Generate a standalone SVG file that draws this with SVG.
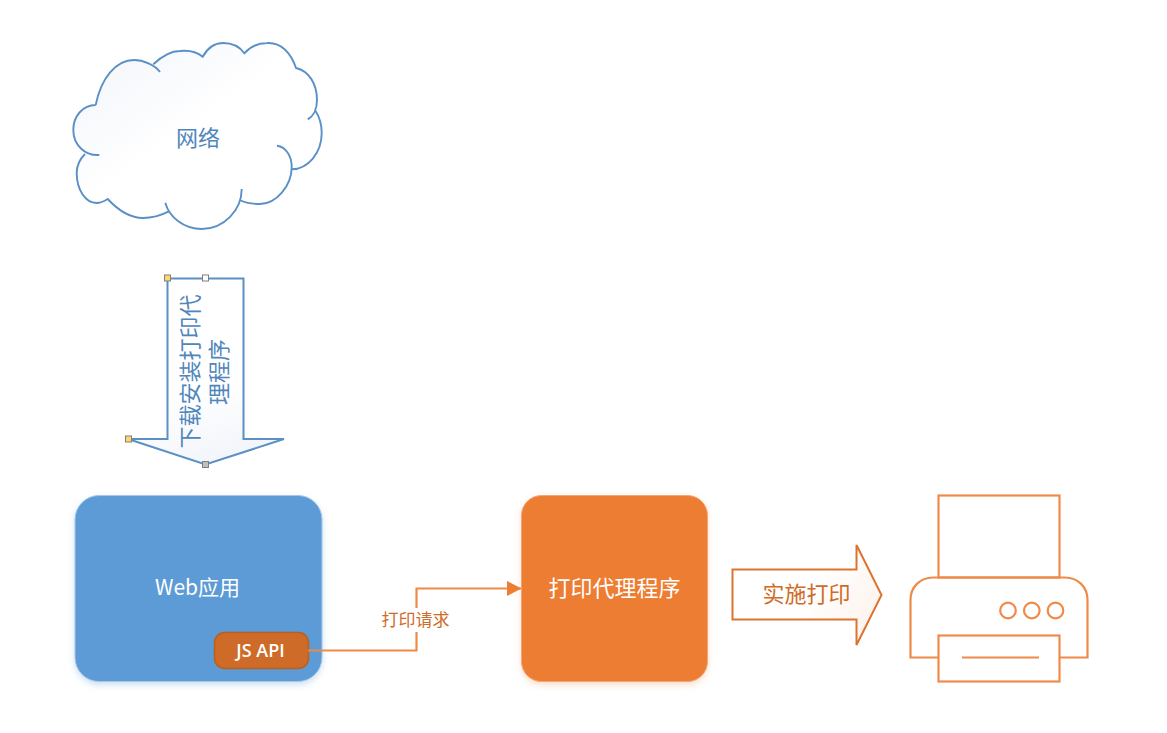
<svg xmlns="http://www.w3.org/2000/svg" width="1167" height="733" viewBox="0 0 1167 733">
<style>
.cjk{font-family:"Noto Sans CJK SC","Noto Sans",sans-serif;text-anchor:middle;dominant-baseline:central}
.blue{fill:none;stroke:#5A90C6;stroke-width:1.900}
.org{fill:none;stroke:#F08A48;stroke-width:2.200}
.h{stroke:#7f7f7f;stroke-width:1}
</style>
<defs>
<linearGradient id="gb" x1="0" y1="0" x2="0.75" y2="0.8"><stop offset="0" stop-color="#F1F4FA"/><stop offset="0.6" stop-color="#FFFFFF"/></linearGradient>
<linearGradient id="ga" x1="0.6" y1="1" x2="0.5" y2="0.6"><stop offset="0" stop-color="#F1F4FA"/><stop offset="1" stop-color="#FFFFFF"/></linearGradient>
<linearGradient id="go" x1="1" y1="0.7" x2="0.5" y2="0.5"><stop offset="0" stop-color="#FDF3EC"/><stop offset="1" stop-color="#FFFFFF"/></linearGradient>
<filter id="sh" x="-10%" y="-10%" width="120%" height="120%"><feDropShadow dx="0" dy="3" stdDeviation="3" flood-color="#5B9BD5" flood-opacity="0.3"/></filter>
<filter id="so" x="-10%" y="-10%" width="120%" height="120%"><feDropShadow dx="0" dy="3" stdDeviation="3" flood-color="#ED7D31" flood-opacity="0.25"/></filter>
<marker id="ah" markerUnits="userSpaceOnUse" markerWidth="15" markerHeight="16" refX="14" refY="8" orient="auto"><path d="M0,0.5L14.500,8L0,15.500Z" fill="#ED7D31"/></marker>
</defs>
<g id="cloud">
<path fill="url(#gb)" d="M95.700,105C101,78 116,60 134,60C141,60 148,61 153.300,64.300C161,57 170,51 180,51C189,50 197,52 202.700,56.700C207,49 214,43 223,43C232,43 240,47 244.300,53.300C250,47 258,43 267,43C281,42 291,53 296,68C309,71 317,84 317,100C317,104 316,107 315,110C319,116 321.700,124 321.700,133C321.700,153 308,169 291.700,169.300C287,187 275,204 260,204C252,204 245,203 240,200C234,216 220,229 201.700,229C187,229 175,222 168.300,211.700C160,216 152,218 143,218C129,218 117,209 107.700,199C103,202 100,203 96.700,203C85,203 76.700,189 76.700,173C76.700,166 80,159 85,154C78,150 73.300,141 73.300,130C73.300,116 83,105 95.700,105Z"/>
<path class="blue" d="M95.700,105C101,78 116,60 134,60C143,60 155,65 160,72M153.300,64.300C161,57 170,51 180,51C189,50 197,52 202.700,56.700C207,49 214,43 223,43C232,43 240,47 244.300,53.300C250,47 258,43 267,43C281,42 291,53 296,68C309,71 317,84 317,100C317,108 314,116 307.700,119.300M315,110C319,116 321.700,124 321.700,133C321.700,153 308,169 291.700,169.300M277,145.700C286,147 291.700,156 291.700,167C291.700,186 276,204 260,204C252,204 245,203 240,200M241.700,189C241.700,210 224,229 201.700,229C184,229 169,217 165.300,202.700M168.300,211.700C160,216 152,218 143,218C129,218 117,209 107.700,199C103,202 100,203 96.700,203C85,203 76.700,189 76.700,173C76.700,166 80,159 85,154M99.300,155C85,156 73.300,145 73.300,130C73.300,116 83,105 95.700,105"/>
<text class="cjk" x="198" y="135.500" font-size="22" fill="#4F86BC">网络</text>
</g>
<g id="download-arrow">
<path d="M167.500,278.500H243.500V439H284L205.500,464.500L128,439H167.500Z" fill="url(#ga)" stroke="#5A90C6" stroke-width="2"/>
<g font-size="22" fill="#4F86BC">
<text transform="translate(188 371.500) rotate(-90)" class="cjk">下载安装打印代</text>
<text transform="translate(216.500 372) rotate(-90)" class="cjk">理程序</text>
</g>
<rect class="h" x="164.500" y="275" width="6" height="6" fill="#FFD966"/>
<rect class="h" x="202.500" y="275" width="6" height="6" fill="#FFFFFF"/>
<rect class="h" x="125.500" y="436" width="6" height="6" fill="#FFD966"/>
<rect class="h" x="202.500" y="461.500" width="6" height="6" fill="#BFBFBF"/>
</g>
<g id="web-app">
<rect x="75" y="495.500" width="247" height="186" rx="24" fill="#5B9BD5" stroke="#A9C7E6" filter="url(#sh)"/>
<text class="cjk" x="197.500" y="585.500" font-size="21" fill="#FFFFFF">Web应用</text>
</g>
<g id="js-api">
<rect x="214.500" y="632.500" width="94" height="36" rx="10" fill="#CF6B28" stroke="#B9601F" stroke-width="1.500"/>
<text x="260.500" y="650" font-family="'Open Sans','Noto Sans',sans-serif" font-size="18" font-weight="600" fill="#FFFFFF" text-anchor="middle" dominant-baseline="central">JS API</text>
</g>
<g id="connectors">
<path d="M308,650.500H416.500V588.500H521" fill="none" stroke="#EE8A47" stroke-width="2.200" marker-end="url(#ah)"/>
</g>
<g id="request-label">
<rect x="378" y="608" width="75" height="24" fill="#FFFFFF"/>
<text class="cjk" x="415.500" y="618.500" font-size="17" fill="#CF6B28">打印请求</text>
</g>
<g id="agent">
<rect x="521.500" y="495.500" width="186" height="186" rx="20" fill="#ED7D31" stroke="#F0A676" filter="url(#so)"/>
<text class="cjk" x="614.500" y="585.500" font-size="22" fill="#FFFFFF">打印代理程序</text>
</g>
<g id="print-arrow">
<path d="M732.500,569.500H856.500V545L881.500,595L856.500,645V619.500H732.500Z" fill="url(#go)" stroke="#DB7430" stroke-width="2"/>
<text class="cjk" x="806.500" y="591.500" font-size="22" fill="#CF6B28">实施打印</text>
</g>
<g id="printer">
<rect class="org" x="938.500" y="495.500" width="121" height="82"/>
<path class="org" d="M938.500,657.500H910.500V600C910.500,587 920,577.500 933,577.500H1065C1078,577.500 1087.500,587 1087.500,600V657.500H1059.500"/>
<rect class="org" x="938.500" y="635.500" width="121" height="46"/>
<path class="org" d="M962,657.500H1039"/>
<circle class="org" cx="1008" cy="610.500" r="7.800"/>
<circle class="org" cx="1031.800" cy="610.500" r="7.800"/>
<circle class="org" cx="1055.500" cy="610.500" r="7.800"/>
</g>
</svg>
